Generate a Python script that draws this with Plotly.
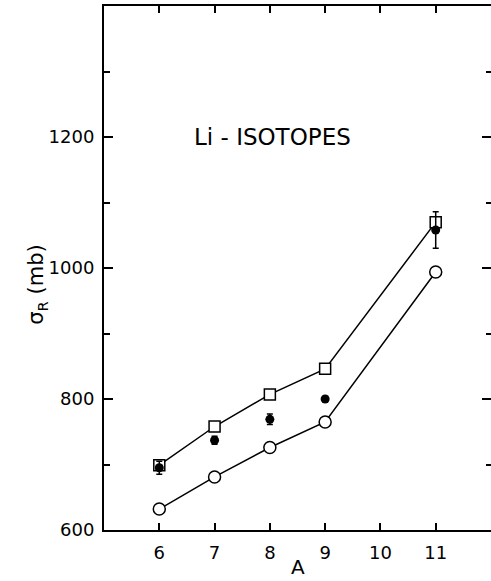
import plotly.graph_objects as go

A = [6, 7, 8, 9, 11]
sigma_open_circle = [632, 681, 726, 765, 994]
sigma_square = [699, 758, 807, 846, 1070]
sigma_filled = [695, 737, 769, 800, 1058]
err_filled = [10, 6, 8, 4, 28]

x_ticks = [6, 7, 8, 9, 10, 11]
y_major = [600, 800, 1000, 1200]
y_minor = [700, 900, 1100, 1300]

FONT = "DejaVu Sans"
fig = go.Figure()

fig.add_trace(go.Scatter(
    x=A, y=sigma_square, mode="lines+markers",
    line=dict(color="black", width=1.5),
    marker=dict(symbol="square", size=11, color="white",
                line=dict(color="black", width=1.5)),
    showlegend=False))

fig.add_trace(go.Scatter(
    x=A, y=sigma_open_circle, mode="lines+markers",
    line=dict(color="black", width=1.5),
    marker=dict(symbol="circle", size=12, color="white",
                line=dict(color="black", width=1.5)),
    showlegend=False))

fig.add_trace(go.Scatter(
    x=A, y=sigma_filled, mode="markers",
    marker=dict(symbol="circle", size=9, color="black"),
    error_y=dict(type="data", array=err_filled, color="black",
                 thickness=1.5, width=3),
    showlegend=False))

# invisible trace for right-side tick axis
fig.add_trace(go.Scatter(x=[None], y=[None], yaxis="y2", showlegend=False))

fig.add_annotation(x=8.05, y=1200, xref="x", yref="y", text="Li - ISOTOPES",
                   showarrow=False, font=dict(family=FONT, size=23, color="black"))

fig.add_annotation(x=-0.212, y=0.468, xref="paper", yref="paper",
                   text="σ<sub>R</sub> (mb)", textangle=-90, showarrow=False,
                   font=dict(family=FONT, size=21, color="black"))

fig.add_annotation(x=0.5, y=-0.0954, xref="paper", yref="paper",
                   text="A", showarrow=False, yanchor="bottom", borderpad=0,
                   font=dict(family=FONT, size=20, color="black"))

fig.update_layout(
    width=491, height=581,
    margin=dict(l=104, r=0, t=6, b=51),
    paper_bgcolor="white", plot_bgcolor="white",
    font=dict(family=FONT, size=18, color="black"),
    xaxis=dict(range=[5, 12], tickvals=x_ticks, ticktext=[str(v) for v in x_ticks],
               ticks="inside", ticklen=7, tickwidth=1.5, tickcolor="black",
               showline=True, linewidth=2, linecolor="black", mirror="ticks",
               showgrid=False, zeroline=False, automargin=False,
               ticklabelstandoff=5),
    yaxis=dict(range=[600, 1400], tickvals=y_major,
               ticks="inside", ticklen=9, tickwidth=1.5, tickcolor="black",
               showline=True, linewidth=2, linecolor="black",
               showgrid=False, zeroline=False, ticklabelstandoff=4, automargin=False,
               minor=dict(tickvals=y_minor, ticks="inside", ticklen=6,
                          tickwidth=1.5, tickcolor="black", showgrid=False)),
    yaxis2=dict(range=[600, 1400], overlaying="y", side="right",
                tickvals=y_major, showticklabels=False, automargin=False,
                ticks="inside", ticklen=9, tickwidth=1.5, tickcolor="black",
                showline=False, showgrid=False, zeroline=False,
                minor=dict(tickvals=y_minor, ticks="inside", ticklen=5,
                           tickwidth=1.5, tickcolor="black", showgrid=False)),
)

fig.write_html("out.html", config={"displayModeBar": False},
               post_script="document.body.style.margin='0';")
